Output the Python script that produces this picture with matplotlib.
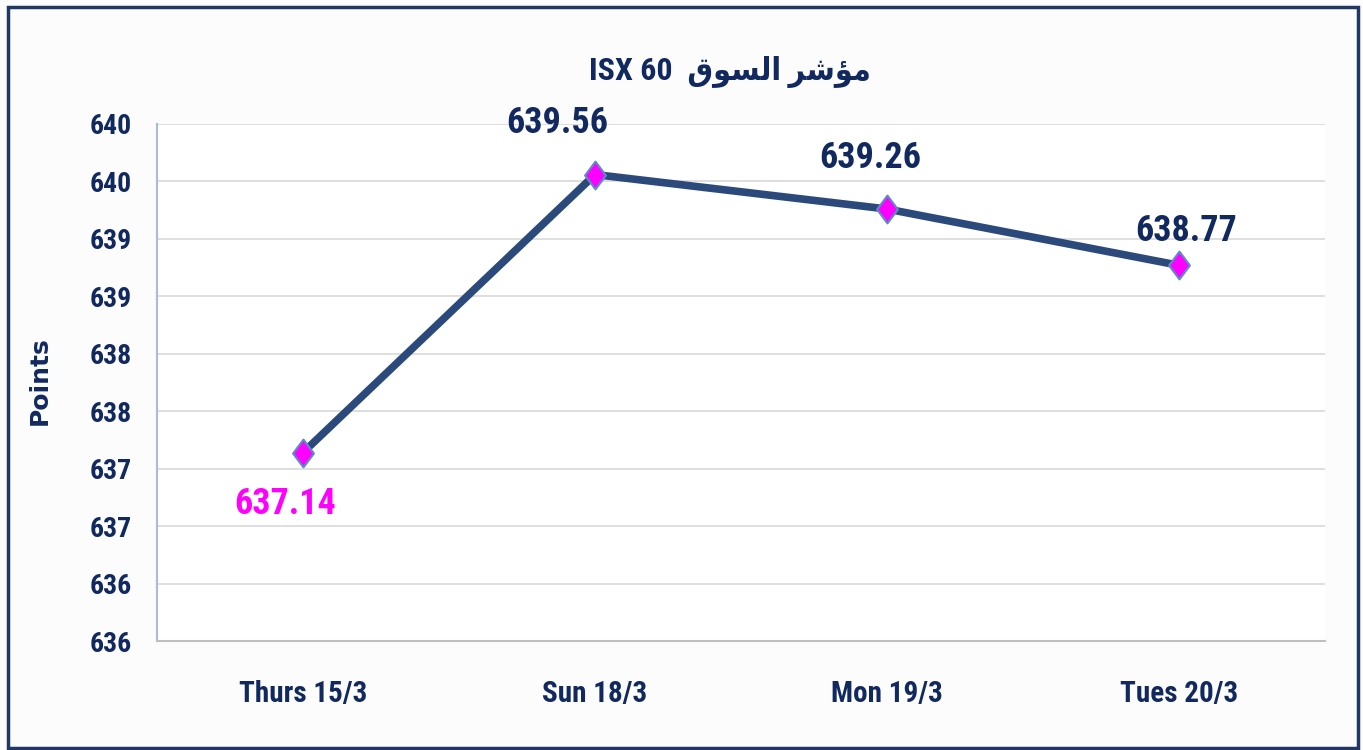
import matplotlib
matplotlib.use('Agg')
import matplotlib.pyplot as plt
from matplotlib.path import Path

days = ['Thurs 15/3', 'Sun 18/3', 'Mon 19/3', 'Tues 20/3']
points = [637.14, 639.56, 639.26, 638.77]
y_ticks = [635.5, 636.0, 636.5, 637.0, 637.5, 638.0, 638.5, 639.0, 639.5, 640.0]
title_ar = 'مؤشر السوق'
title_en = 'ISX 60'

navy = '#12295F'
line_col = '#2B4A7B'
fonts = ['Roboto Condensed', 'DejaVu Sans']

# matplotlib has no arabic shaping, so pick the joined glyph forms by hand
# (isolated, final, initial, medial)
forms = {
    'م': ('\uFEE1', '\uFEE2', '\uFEE3', '\uFEE4'),
    'ؤ': ('\uFE85', '\uFE86'),
    'ش': ('\uFEB5', '\uFEB6', '\uFEB7', '\uFEB8'),
    'ر': ('\uFEAD', '\uFEAE'),
    'ا': ('\uFE8D', '\uFE8E'),
    'ل': ('\uFEDD', '\uFEDE', '\uFEDF', '\uFEE0'),
    'س': ('\uFEB1', '\uFEB2', '\uFEB3', '\uFEB4'),
    'و': ('\uFEED', '\uFEEE'),
    'ق': ('\uFED5', '\uFED6', '\uFED7', '\uFED8'),
}


def shape(text):
    words = []
    for w in text.split(' '):
        out = ''
        for i, ch in enumerate(w):
            f = forms[ch]
            prev = i > 0 and len(forms[w[i - 1]]) == 4
            nxt = i < len(w) - 1 and len(f) == 4
            if prev and nxt:
                out += f[3]
            elif prev:
                out += f[1]
            elif nxt:
                out += f[2]
            else:
                out += f[0]
        words.append(out[::-1])
    return ' '.join(words[::-1])


fig = plt.figure(figsize=(13.63, 7.5), dpi=100, facecolor='#FCFCFC')
ax = fig.add_axes([157 / 1363, 1 - 641 / 750, 1168 / 1363, 517 / 750])
ax.set_facecolor('white')

x = range(len(days))
diamond = Path([(0, 1), (0.75, 0), (0, -1), (-0.75, 0), (0, 1)],
               [Path.MOVETO, Path.LINETO, Path.LINETO, Path.LINETO, Path.CLOSEPOLY])
ax.plot(x, points, color=line_col, linewidth=5.5, zorder=3,
        marker=diamond, markersize=20, markerfacecolor='#FF00FF',
        markeredgecolor='#5B8BC9', markeredgewidth=1.5)

offsets = [(-13, -37), (-27, 37), (-12, 37), (5, 25)]
for i, v in enumerate(points):
    col = '#FF00FF' if i == 0 else navy
    ax.annotate('%.2f' % v, (i, v), xytext=offsets[i], textcoords='offset points',
                ha='center', va='center', fontsize=26, fontweight='bold',
                color=col, family=fonts, zorder=4)

ax.set_xlim(-0.5, len(days) - 0.5)
ax.set_ylim(635.5, 640.0)
ax.set_yticks(y_ticks)
ax.set_yticklabels(['%d' % int(t + 0.5) for t in y_ticks])
ax.set_xticks(list(x))
ax.set_xticklabels(days)
for lab in ax.get_yticklabels():
    lab.set_family(fonts)
    lab.set_fontweight('bold')
    lab.set_fontsize(20)
    lab.set_color(navy)
for lab in ax.get_xticklabels():
    lab.set_family(fonts)
    lab.set_fontweight('bold')
    lab.set_fontsize(21)
    lab.set_color(navy)
ax.tick_params(axis='y', length=0, pad=18)
ax.tick_params(axis='x', length=0, pad=28)

ax.grid(axis='y', color='#D9D9D9', linewidth=1.2)
ax.set_axisbelow(True)
ax.spines['top'].set_visible(False)
ax.spines['right'].set_visible(False)
ax.spines['left'].set_color('#A9BCDB')
ax.spines['left'].set_linewidth(1.5)
ax.spines['bottom'].set_color('#BFBFBF')
ax.spines['bottom'].set_linewidth(1.5)

fig.text(40 / 1363, 1 - 381 / 750, 'Points', rotation=90, ha='center', va='center',
         fontsize=18, fontweight='bold', color=navy, family='DejaVu Sans')

fig.text(730 / 1363, 1 - 72 / 750, title_en + '  ' + shape(title_ar),
         ha='center', va='center', fontsize=23, fontweight='bold',
         color=navy, family=fonts, fontstretch='condensed')

# dark frame round the whole chart
fig.patches.append(plt.Rectangle((8 / 1363, 2 / 750), 1350 / 1363, 741 / 750,
                                 transform=fig.transFigure, fill=False,
                                 edgecolor='#1F3864', linewidth=2.5))

fig.savefig('out.png', dpi=100, facecolor=fig.get_facecolor())
